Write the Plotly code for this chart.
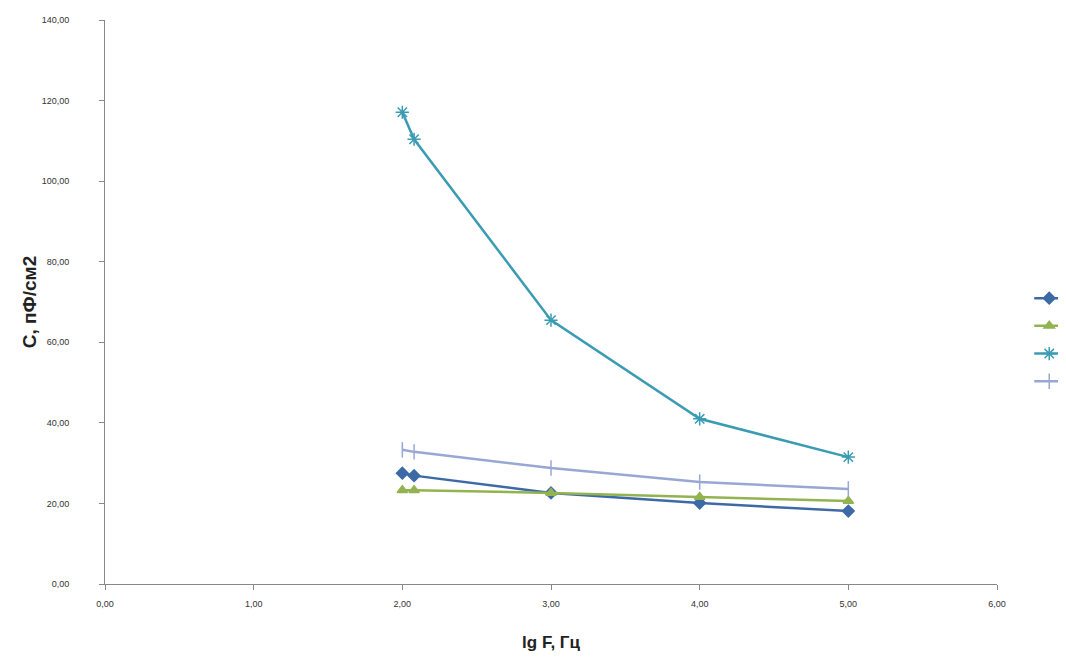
import plotly.graph_objects as go

x_vals = [2.0, 2.079, 3.0, 4.0, 5.0]
series_names = [" ", "  ", "   ", "    "]
s1 = [27.5, 26.9, 22.6, 20.1, 18.1]
s2 = [23.3, 23.3, 22.6, 21.6, 20.6]
s3 = [117.1, 110.4, 65.5, 41.0, 31.5]
s4 = [33.3, 32.8, 28.8, 25.3, 23.6]

x_ticks = [0, 1, 2, 3, 4, 5, 6]
y_ticks = [0, 20, 40, 60, 80, 100, 120, 140]

colors = ["#3D6AA6", "#93B350", "#3B9BB3", "#98A8D4"]
symbols = ["diamond", "triangle-up", "asterisk-open", "line-ns-open"]
sizes = [9, 9, 11, 11]

fig = go.Figure()
for name, ys, c, sym, sz in zip(series_names, [s1, s2, s3, s4], colors, symbols, sizes):
    fig.add_trace(go.Scatter(
        x=x_vals, y=ys, name=name, mode="lines+markers",
        line=dict(color=c, width=2.5),
        marker=dict(symbol=sym, size=sz, color=c, line=dict(color=c, width=1.5)),
    ))

axis_font = dict(family="Liberation Sans, Arial", size=9, color="#333333")
fig.update_layout(
    width=1066, height=657,
    margin=dict(l=97, r=77, t=12, b=81, autoexpand=False),
    paper_bgcolor="white", plot_bgcolor="white",
    separators=", ",
    showlegend=True,
    legend=dict(xref="container", yref="container", x=0.958, y=0.495,
                xanchor="left", yanchor="middle",
                font=dict(size=19), bgcolor="rgba(0,0,0,0)", tracegroupgap=0),
    xaxis=dict(range=[0, 6], tickvals=x_ticks, tickformat=".2f", automargin=False,
               showgrid=False, zeroline=False, showline=True, linecolor="#888888",
               linewidth=1, ticks="outside", ticklen=5, tickcolor="#888888",
               tickfont=axis_font, ticklabelstandoff=6,
               title=dict(text="<b>lg F, Гц</b>", font=dict(family="Liberation Sans, Arial", size=17, color="#222222"), standoff=28)),
    yaxis=dict(range=[0, 140], tickvals=y_ticks, tickformat=".2f", automargin=False,
               showgrid=False, zeroline=False, showline=True, linecolor="#888888",
               linewidth=1, ticks="outside", ticklen=5, tickcolor="#888888",
               tickfont=axis_font, ticklabelstandoff=28,
               title=dict(text="<b>С, пФ/см2</b>", font=dict(family="Liberation Sans, Arial", size=19, color="#222222"), standoff=0)),
)

fig.write_html("out.html")
